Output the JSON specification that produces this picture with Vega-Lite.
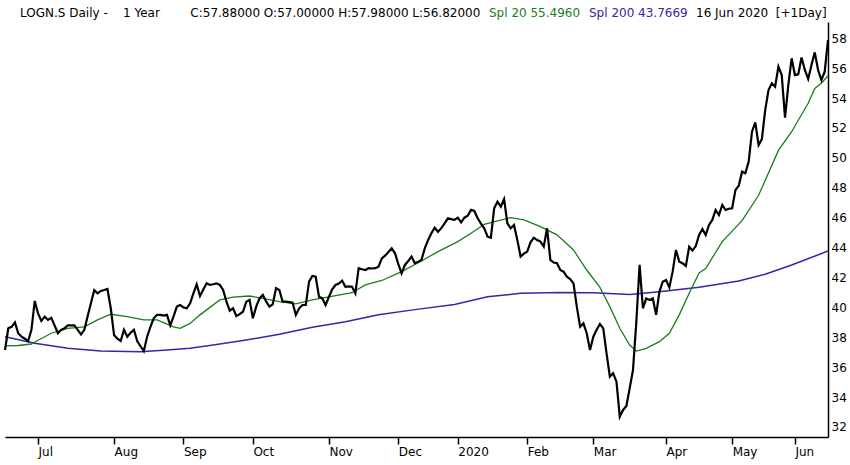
{
  "$schema": "https://vega.github.io/schema/vega-lite/v6.json",
  "width": 823,
  "height": 415,
  "autosize": {"type": "none"},
  "padding": {"left": 5, "top": 22, "right": 22, "bottom": 28},
  "background": "white",
  "config": {
    "font": "DejaVu Sans",
    "view": {"stroke": null},
    "axis": {"labelFont": "DejaVu Sans", "labelFontSize": 12, "labelColor": "black", "grid": false, "title": null, "domainColor": "black", "domainWidth": 1.5},
    "axisX": {"tickColor": "black", "tickSize": 7, "tickWidth": 1.5, "labelAlign": "left", "labelPadding": 2, "labelOverlap": false, "labelFlush": false},
    "axisY": {"tickSize": 0, "labelPadding": 3, "labelBaseline": "middle"}
  },
  "datasets": {
    "close": [
      {"date":"2019-06-17","value":37.15},{"date":"2019-06-18","value":38.6},{"date":"2019-06-19","value":38.7},{"date":"2019-06-20","value":39.0},{"date":"2019-06-21","value":38.27},
      {"date":"2019-06-24","value":38.04},{"date":"2019-06-25","value":37.9},{"date":"2019-06-26","value":37.75},{"date":"2019-06-27","value":38.5},{"date":"2019-06-28","value":40.43},
      {"date":"2019-07-01","value":39.6},{"date":"2019-07-02","value":39.1},{"date":"2019-07-03","value":39.38},{"date":"2019-07-04","value":39.16},{"date":"2019-07-05","value":39.3},
      {"date":"2019-07-08","value":38.8},{"date":"2019-07-09","value":38.27},{"date":"2019-07-10","value":38.5},{"date":"2019-07-11","value":38.6},{"date":"2019-07-12","value":38.8},
      {"date":"2019-07-15","value":38.8},{"date":"2019-07-16","value":38.8},{"date":"2019-07-17","value":38.5},{"date":"2019-07-18","value":38.2},{"date":"2019-07-19","value":38.5},
      {"date":"2019-07-22","value":39.4},{"date":"2019-07-23","value":40.27},{"date":"2019-07-24","value":41.16},{"date":"2019-07-25","value":40.94},{"date":"2019-07-26","value":41.1},
      {"date":"2019-07-29","value":41.16},{"date":"2019-07-30","value":41.23},{"date":"2019-07-31","value":39.94},{"date":"2019-08-02","value":38.15},
      {"date":"2019-08-05","value":37.9},{"date":"2019-08-06","value":37.75},{"date":"2019-08-07","value":38.5},{"date":"2019-08-08","value":38.04},{"date":"2019-08-09","value":38.3},
      {"date":"2019-08-12","value":38.5},{"date":"2019-08-13","value":37.75},{"date":"2019-08-14","value":37.4},{"date":"2019-08-15","value":37.08},{"date":"2019-08-16","value":38.04},
      {"date":"2019-08-19","value":38.7},{"date":"2019-08-20","value":39.27},{"date":"2019-08-21","value":39.5},{"date":"2019-08-22","value":39.5},{"date":"2019-08-23","value":39.45},
      {"date":"2019-08-26","value":39.5},{"date":"2019-08-27","value":38.8},{"date":"2019-08-28","value":39.4},{"date":"2019-08-29","value":40.05},{"date":"2019-08-30","value":40.16},
      {"date":"2019-09-02","value":40.0},{"date":"2019-09-03","value":39.94},{"date":"2019-09-04","value":40.27},{"date":"2019-09-05","value":40.94},{"date":"2019-09-06","value":41.54},
      {"date":"2019-09-09","value":40.76},{"date":"2019-09-10","value":41.2},{"date":"2019-09-11","value":41.61},{"date":"2019-09-12","value":41.5},{"date":"2019-09-13","value":41.55},
      {"date":"2019-09-16","value":41.61},{"date":"2019-09-17","value":41.5},{"date":"2019-09-18","value":41.16},{"date":"2019-09-19","value":40.38},{"date":"2019-09-20","value":39.78},
      {"date":"2019-09-23","value":39.94},{"date":"2019-09-24","value":39.42},{"date":"2019-09-25","value":39.55},{"date":"2019-09-26","value":39.71},{"date":"2019-09-27","value":40.38},
      {"date":"2019-09-30","value":40.5},{"date":"2019-10-01","value":39.27},{"date":"2019-10-02","value":40.05},{"date":"2019-10-03","value":40.6},{"date":"2019-10-04","value":40.83},
      {"date":"2019-10-07","value":40.4},{"date":"2019-10-08","value":40.05},{"date":"2019-10-09","value":40.2},{"date":"2019-10-10","value":41.28},{"date":"2019-10-11","value":41.16},
      {"date":"2019-10-14","value":40.38},{"date":"2019-10-15","value":40.38},{"date":"2019-10-16","value":40.35},{"date":"2019-10-17","value":40.31},{"date":"2019-10-18","value":39.5},
      {"date":"2019-10-21","value":39.94},{"date":"2019-10-22","value":40.16},{"date":"2019-10-23","value":40.16},{"date":"2019-10-24","value":41.72},{"date":"2019-10-25","value":42.1},
      {"date":"2019-10-28","value":42.05},{"date":"2019-10-29","value":40.71},{"date":"2019-10-30","value":40.6},{"date":"2019-10-31","value":40.16},{"date":"2019-11-01","value":40.7},
      {"date":"2019-11-04","value":41.21},{"date":"2019-11-05","value":41.5},{"date":"2019-11-06","value":41.6},{"date":"2019-11-07","value":41.79},{"date":"2019-11-08","value":41.38},
      {"date":"2019-11-11","value":41.4},{"date":"2019-11-12","value":41.38},{"date":"2019-11-13","value":40.94},{"date":"2019-11-14","value":42.62},{"date":"2019-11-15","value":42.55},
      {"date":"2019-11-18","value":42.5},{"date":"2019-11-19","value":42.62},{"date":"2019-11-20","value":42.6},{"date":"2019-11-21","value":42.62},{"date":"2019-11-22","value":42.72},
      {"date":"2019-11-25","value":43.28},{"date":"2019-11-26","value":43.46},{"date":"2019-11-27","value":43.7},{"date":"2019-11-28","value":43.95},{"date":"2019-11-29","value":43.62},
      {"date":"2019-12-02","value":42.9},{"date":"2019-12-03","value":42.28},{"date":"2019-12-04","value":42.84},{"date":"2019-12-05","value":43.1},{"date":"2019-12-06","value":43.4},
      {"date":"2019-12-09","value":42.95},{"date":"2019-12-10","value":43.05},{"date":"2019-12-11","value":43.17},{"date":"2019-12-12","value":43.95},{"date":"2019-12-13","value":44.5},
      {"date":"2019-12-16","value":44.96},{"date":"2019-12-17","value":45.33},{"date":"2019-12-18","value":45.06},{"date":"2019-12-19","value":45.3},{"date":"2019-12-20","value":45.62},
      {"date":"2019-12-23","value":45.96},{"date":"2019-12-27","value":45.9},{"date":"2019-12-30","value":45.85},{"date":"2020-01-03","value":46.0},
      {"date":"2020-01-06","value":45.69},{"date":"2020-01-07","value":46.0},{"date":"2020-01-08","value":46.13},{"date":"2020-01-09","value":46.52},{"date":"2020-01-10","value":46.45},
      {"date":"2020-01-13","value":45.96},{"date":"2020-01-14","value":45.6},{"date":"2020-01-15","value":45.29},{"date":"2020-01-16","value":44.73},{"date":"2020-01-17","value":44.66},
      {"date":"2020-01-20","value":46.63},{"date":"2020-01-21","value":47.07},{"date":"2020-01-22","value":46.74},{"date":"2020-01-23","value":47.25},{"date":"2020-01-24","value":45.62},
      {"date":"2020-01-27","value":45.29},{"date":"2020-01-28","value":45.51},{"date":"2020-01-29","value":44.51},{"date":"2020-01-30","value":43.4},{"date":"2020-01-31","value":43.6},
      {"date":"2020-02-03","value":43.73},{"date":"2020-02-04","value":44.35},{"date":"2020-02-05","value":44.66},{"date":"2020-02-06","value":44.5},{"date":"2020-02-07","value":44.4},
      {"date":"2020-02-10","value":44.06},{"date":"2020-02-11","value":45.29},{"date":"2020-02-12","value":43.17},{"date":"2020-02-13","value":43.0},{"date":"2020-02-14","value":42.95},
      {"date":"2020-02-17","value":42.5},{"date":"2020-02-18","value":42.39},{"date":"2020-02-19","value":42.05},{"date":"2020-02-20","value":41.9},{"date":"2020-02-21","value":41.61},
      {"date":"2020-02-24","value":40.05},{"date":"2020-02-25","value":38.71},{"date":"2020-02-26","value":38.94},{"date":"2020-02-27","value":38.27},{"date":"2020-02-28","value":37.15},
      {"date":"2020-03-02","value":38.04},{"date":"2020-03-03","value":38.5},{"date":"2020-03-04","value":38.89},{"date":"2020-03-05","value":38.6},{"date":"2020-03-06","value":36.93},
      {"date":"2020-03-09","value":35.37},{"date":"2020-03-10","value":35.59},{"date":"2020-03-11","value":35.03},{"date":"2020-03-12","value":32.69},{"date":"2020-03-13","value":33.14},
      {"date":"2020-03-16","value":33.4},{"date":"2020-03-17","value":34.59},{"date":"2020-03-18","value":35.81},{"date":"2020-03-19","value":39.0},{"date":"2020-03-20","value":42.84},
      {"date":"2020-03-23","value":39.94},{"date":"2020-03-24","value":40.6},{"date":"2020-03-25","value":40.5},{"date":"2020-03-26","value":40.6},{"date":"2020-03-27","value":39.5},
      {"date":"2020-03-30","value":41.05},{"date":"2020-03-31","value":41.72},{"date":"2020-04-01","value":41.83},{"date":"2020-04-02","value":41.34},{"date":"2020-04-03","value":42.39},
      {"date":"2020-04-06","value":43.84},{"date":"2020-04-07","value":43.06},{"date":"2020-04-08","value":42.95},{"date":"2020-04-09","value":42.77},
      {"date":"2020-04-14","value":44.06},{"date":"2020-04-15","value":43.8},{"date":"2020-04-16","value":44.1},{"date":"2020-04-17","value":44.84},
      {"date":"2020-04-20","value":45.24},{"date":"2020-04-21","value":44.84},{"date":"2020-04-22","value":45.51},{"date":"2020-04-23","value":45.85},{"date":"2020-04-24","value":46.52},
      {"date":"2020-04-27","value":46.18},{"date":"2020-04-28","value":46.85},{"date":"2020-04-29","value":46.52},{"date":"2020-04-30","value":46.6},
      {"date":"2020-05-04","value":46.63},{"date":"2020-05-05","value":47.85},{"date":"2020-05-06","value":48.14},{"date":"2020-05-07","value":49.08},{"date":"2020-05-08","value":48.97},
      {"date":"2020-05-11","value":49.75},{"date":"2020-05-12","value":51.75},{"date":"2020-05-13","value":52.38},{"date":"2020-05-14","value":50.86},{"date":"2020-05-15","value":51.26},
      {"date":"2020-05-18","value":53.2},{"date":"2020-05-19","value":54.54},{"date":"2020-05-20","value":54.99},{"date":"2020-05-22","value":54.76},
      {"date":"2020-05-25","value":56.1},{"date":"2020-05-26","value":55.54},{"date":"2020-05-27","value":52.69},{"date":"2020-05-28","value":54.88},{"date":"2020-05-29","value":56.66},
      {"date":"2020-06-02","value":55.54},{"date":"2020-06-03","value":55.59},{"date":"2020-06-04","value":56.71},{"date":"2020-06-05","value":55.88},
      {"date":"2020-06-08","value":55.28},{"date":"2020-06-09","value":56.21},{"date":"2020-06-10","value":57.06},{"date":"2020-06-11","value":55.88},{"date":"2020-06-12","value":55.21},
      {"date":"2020-06-15","value":55.77},{"date":"2020-06-16","value":57.88}
    ],
    "spl20": [
      {"date":"2019-06-17","value":37.42},{"date":"2019-06-21","value":37.45},{"date":"2019-06-27","value":37.55},{"date":"2019-07-01","value":37.8},
      {"date":"2019-07-05","value":38.27},{"date":"2019-07-12","value":38.6},{"date":"2019-07-19","value":38.7},{"date":"2019-07-25","value":39.16},
      {"date":"2019-07-31","value":39.54},{"date":"2019-08-08","value":39.38},{"date":"2019-08-15","value":39.16},{"date":"2019-08-21","value":39.16},
      {"date":"2019-08-28","value":38.7},{"date":"2019-08-30","value":38.6},{"date":"2019-09-04","value":38.93},{"date":"2019-09-09","value":39.5},
      {"date":"2019-09-17","value":40.5},{"date":"2019-09-23","value":40.68},{"date":"2019-09-30","value":40.76},{"date":"2019-10-04","value":40.6},
      {"date":"2019-10-11","value":40.38},{"date":"2019-10-18","value":40.23},{"date":"2019-10-25","value":40.5},{"date":"2019-11-01","value":40.71},
      {"date":"2019-11-12","value":40.98},{"date":"2019-11-18","value":41.5},{"date":"2019-11-25","value":41.8},{"date":"2019-12-03","value":42.39},
      {"date":"2019-12-11","value":43.1},{"date":"2019-12-18","value":43.73},{"date":"2020-01-03","value":44.4},{"date":"2020-01-09","value":44.96},
      {"date":"2020-01-15","value":45.56},{"date":"2020-01-21","value":45.78},{"date":"2020-01-27","value":46.0},{"date":"2020-01-31","value":45.85},
      {"date":"2020-02-07","value":45.4},{"date":"2020-02-14","value":44.85},{"date":"2020-02-21","value":43.84},{"date":"2020-02-27","value":42.5},
      {"date":"2020-03-04","value":41.34},{"date":"2020-03-09","value":40.05},{"date":"2020-03-12","value":38.6},{"date":"2020-03-17","value":37.48},
      {"date":"2020-03-19","value":37.08},{"date":"2020-03-24","value":37.26},{"date":"2020-03-30","value":37.71},{"date":"2020-04-02","value":38.27},
      {"date":"2020-04-07","value":39.5},{"date":"2020-04-14","value":40.94},{"date":"2020-04-17","value":42.3},{"date":"2020-04-21","value":42.6},
      {"date":"2020-04-28","value":44.4},{"date":"2020-05-07","value":45.8},{"date":"2020-05-14","value":47.5},{"date":"2020-05-25","value":50.5},
      {"date":"2020-05-29","value":51.75},{"date":"2020-06-08","value":53.65},{"date":"2020-06-10","value":54.65},{"date":"2020-06-12","value":54.99},
      {"date":"2020-06-16","value":55.496}
    ],
    "spl200": [
      {"date":"2019-06-17","value":38.04},{"date":"2019-06-28","value":37.6},{"date":"2019-07-12","value":37.26},{"date":"2019-07-26","value":37.08},
      {"date":"2019-08-14","value":37.04},{"date":"2019-08-26","value":37.15},{"date":"2019-09-04","value":37.26},{"date":"2019-09-13","value":37.48},
      {"date":"2019-09-27","value":37.82},{"date":"2019-10-11","value":38.2},{"date":"2019-10-25","value":38.67},{"date":"2019-11-08","value":39.04},
      {"date":"2019-11-22","value":39.5},{"date":"2019-12-09","value":39.85},{"date":"2019-12-30","value":40.2},{"date":"2020-01-16","value":40.71},
      {"date":"2020-01-30","value":40.94},{"date":"2020-02-17","value":41.0},{"date":"2020-03-02","value":40.98},{"date":"2020-03-17","value":40.87},
      {"date":"2020-03-30","value":41.05},{"date":"2020-04-17","value":41.34},{"date":"2020-05-06","value":41.77},{"date":"2020-05-18","value":42.22},
      {"date":"2020-05-29","value":42.84},{"date":"2020-06-16","value":43.7669}
    ]
  },
  "encoding": {
    "x": {
      "field": "date", "type": "ordinal",
      "scale": {"type": "point", "padding": 0},
      "axis": {
        "values": ["2019-07-01","2019-08-02","2019-09-02","2019-10-01","2019-11-01","2019-12-02","2020-01-03","2020-02-03","2020-03-02","2020-04-01","2020-05-04","2020-06-02"],
        "labelExpr": "slice(datum.value, 5, 7) == '01' ? slice(datum.value, 0, 4) : utcFormat(toDate(datum.value), '%b')",
        "labelAngle": 0
      }
    },
    "y": {
      "field": "value", "type": "quantitative",
      "scale": {"domain": [31.33, 59.09], "nice": false, "zero": false},
      "axis": {"orient": "right", "values": [32,34,36,38,40,42,44,46,48,50,52,54,56,58]}
    }
  },
  "layer": [
    {
      "data": {"name": "spl200"},
      "mark": {"type": "line", "strokeWidth": 1.5},
      "encoding": {"color": {"datum": "Spl 200 43.7669"}}
    },
    {
      "data": {"name": "spl20"},
      "mark": {"type": "line", "strokeWidth": 1.3},
      "encoding": {"color": {"datum": "Spl 20 55.4960"}}
    },
    {
      "data": {"name": "close"},
      "mark": {"type": "line", "strokeWidth": 2.2},
      "encoding": {
        "color": {
          "datum": "LOGN.S Daily -\u00a0\u00a0\u00a0\u00a01 Year\u00a0\u00a0\u00a0\u00a0\u00a0\u00a0\u00a0\u00a0C:57.88000 O:57.00000 H:57.98000 L:56.82000",
          "scale": {
            "domain": ["LOGN.S Daily -\u00a0\u00a0\u00a0\u00a01 Year\u00a0\u00a0\u00a0\u00a0\u00a0\u00a0\u00a0\u00a0C:57.88000 O:57.00000 H:57.98000 L:56.82000", "Spl 20 55.4960", "Spl 200 43.7669", "\u00a0\u00a0\u00a0\u00a0\u00a0\u00a0\u00a016 Jun 2020\u00a0\u00a0[+1Day]"],
            "range": ["#000000", "#1a7d1a", "#3d22a8", "#000000"]
          },
          "legend": {
            "orient": "none", "legendX": 15, "legendY": -15, "direction": "horizontal",
            "title": null, "labelFontSize": 12, "labelLimit": 0, "labelOffset": -12, "columnPadding": 8,
            "symbolSize": 1, "symbolStrokeWidth": 0, "symbolOpacity": 0,
            "encode": {"labels": {"update": {"fill": {"scale": "color", "field": "value"}}}}
          }
        }
      }
    }
  ]
}
